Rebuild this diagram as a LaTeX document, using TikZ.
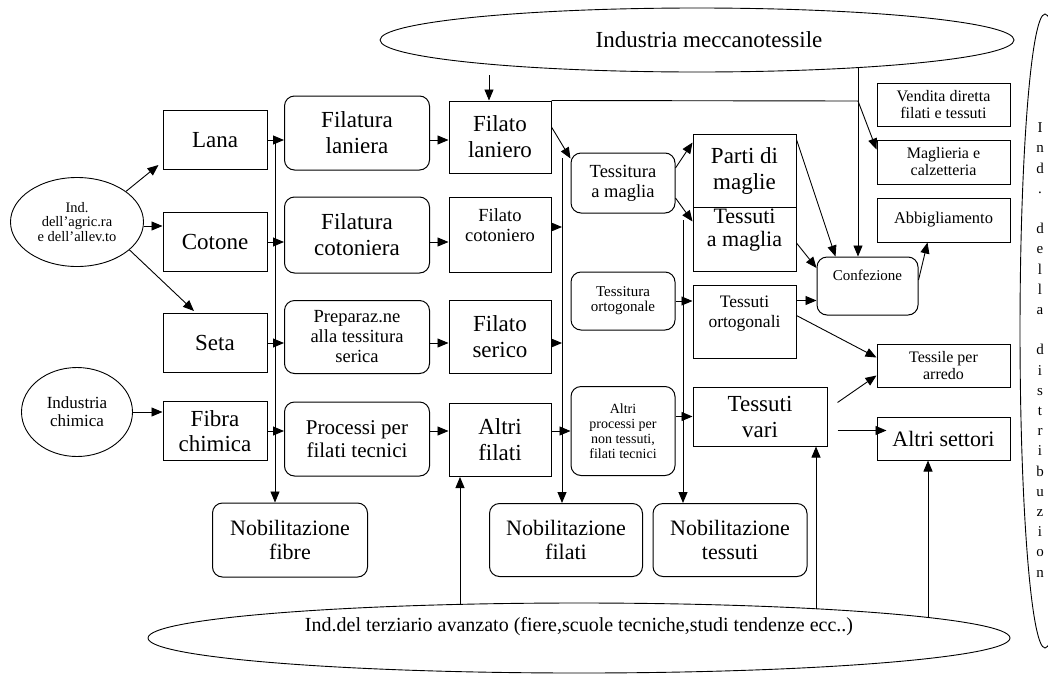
\documentclass[tikz,border=0pt]{standalone}
\usepackage{fontspec}
\setmainfont{Liberation Serif}
\usetikzlibrary{arrows.meta,shapes.geometric}
\newcommand\topbox[4]{\parbox[c][#2][t]{#1}{\centering\vspace*{#3}#4\par}}
\begin{document}
\begin{tikzpicture}[x=1pt,y=-1pt,
  arr/.style={-{Triangle[length=11pt,width=9pt]},line width=0.9pt},
  sq/.style={draw,line width=1pt,inner sep=0pt,align=center},
  rd/.style={sq,rounded corners=10pt},
  el/.style={draw,ellipse,line width=0.9pt,inner sep=0pt,align=center},
  fA/.style={font=\fontsize{23}{26}\selectfont},
  fAii/.style={font=\fontsize{23}{25}\selectfont},
  fB/.style={font=\fontsize{18.5}{20}\selectfont},
  fP/.style={font=\fontsize{21}{23}\selectfont},
  fN/.style={font=\fontsize{22}{24}\selectfont},
  fS/.style={font=\fontsize{15}{15}\selectfont},
  fX/.style={font=\fontsize{14}{15}\selectfont},
  fTm/.style={font=\fontsize{22}{23}\selectfont},
  fO/.style={font=\fontsize{17.5}{20}\selectfont},
  fC/.style={font=\fontsize{15}{17}\selectfont},
  fV/.style={font=\fontsize{16}{17}\selectfont},
  fAb/.style={font=\fontsize{16.5}{18}\selectfont},
  fAS/.style={font=\fontsize{22}{24}\selectfont},
  fE/.style={font=\fontsize{14.5}{14.5}\selectfont},
  fF/.style={font=\fontsize{17}{18}\selectfont},
  fT/.style={font=\fontsize{23}{24}\selectfont},
  fTb/.style={font=\fontsize{20}{22}\selectfont},
  fD/.style={font=\fontsize{15}{20.2}\selectfont}
]
\useasboundingbox (0,0) rectangle (1048,675);

% ellipses
\node[el,fT,minimum width=634pt,minimum height=64pt] (mecc) at (697,40) {\hspace*{24pt}Industria meccanotessile};
\node[el,fTb,minimum width=862pt,minimum height=70pt] (terz) at (579,638) {Ind.del terziario avanzato (fiere,scuole tecniche,studi tendenze ecc..)\\[6pt]};
\node[el,minimum width=50pt,minimum height=634pt] (distrib) at (1045,331) {};
\node[fD,align=center,inner sep=0pt] (distrtxt) at (1040,350) {I\\n\\d\\.\\[20.2pt]d\\e\\l\\l\\a\\[20.2pt]d\\i\\s\\t\\r\\i\\b\\u\\z\\i\\o\\n};
\node[el,fE,minimum width=133pt,minimum height=89pt] (agr) at (77,222) {Ind.\\dell'agric.ra\\e dell'allev.to};
\node[el,fF,minimum width=111pt,minimum height=89pt] (chim) at (77,412) {Industria\\chimica};

% column 1
\node[sq,fA,minimum width=104pt,minimum height=59pt] (lana) at (215,140) {Lana};
\node[sq,fA,minimum width=104pt,minimum height=59pt] (cotone) at (215,242) {Cotone};
\node[sq,fA,minimum width=104pt,minimum height=59pt] (seta) at (215,343) {Seta};
\node[sq,fAii,minimum width=104pt,minimum height=59pt] (fibra) at (215,431) {Fibra\\chimica};

% column 2
\node[rd,fA,minimum width=145pt,minimum height=74pt] (filatlan) at (357,133) {Filatura\\laniera};
\node[rd,fA,minimum width=145pt,minimum height=76pt] (filatcot) at (357,235) {Filatura\\cotoniera};
\node[rd,fB,minimum width=145pt,minimum height=73pt] (prep) at (357,337) {Preparaz.ne\\alla tessitura\\serica};
\node[rd,fP,minimum width=145pt,minimum height=74pt] (proc) at (357,439) {Processi per\\filati tecnici};

% column 3
\node[sq,fA,minimum width=102pt,minimum height=72pt] (filatolan) at (500,137) {Filato\\laniero};
\node[sq,fB] (filatocot) at (500,234.5) {\topbox{102pt}{75pt}{12pt}{Filato\\cotoniero}};
\node[sq,fA,minimum width=102pt,minimum height=73pt] (serico) at (500,337) {Filato\\serico};
\node[sq,fA,minimum width=102pt,minimum height=73pt] (altrifil) at (500,440) {Altri\\filati};

% nobilitazione
\node[rd,fN,minimum width=155pt,minimum height=74pt] (nobfib) at (290,540) {Nobilitazione\\fibre};
\node[rd,fN,minimum width=153pt,minimum height=73pt] (nobfil) at (566,540) {Nobilitazione\\filati};
\node[rd,fN,minimum width=154pt,minimum height=73pt] (nobtes) at (730,540) {Nobilitazione\\tessuti};

% column 4
\node[rd,fB,minimum width=104pt,minimum height=60pt] (tessmag) at (623,183) {Tessitura\\a maglia};
\node[rd,fS,minimum width=104pt,minimum height=58pt] (tessort) at (623,301) {Tessitura\\ortogonale};
\node[rd,fX,minimum width=104pt,minimum height=89pt] (altriproc) at (623,431) {Altri\\processi per\\non tessuti,\\filati tecnici};

% column 5
\node[sq,fA,minimum width=103pt,minimum height=73pt] (partimag) at (744.5,170.5) {Parti di\\maglie};
\node[sq,fTm] (tessutimag) at (744.5,239) {\topbox{103pt}{64pt}{2pt}{Tessuti\\a maglia}};
\node[sq,fO] (tessorto) at (744.5,321.5) {\topbox{103pt}{73pt}{11pt}{Tessuti\\ortogonali}};
\node[sq,fA,minimum width=134pt,minimum height=59pt] (tessvari) at (760,416.5) {Tessuti\\vari};

\node[rd,fC] (confez) at (867.5,286) {\topbox{101pt}{58pt}{12.8pt}{Confezione}};

% right column
\node[sq,fV,minimum width=133pt,minimum height=43pt] (vend) at (943.5,104.5) {Vendita diretta\\filati e tessuti};
\node[sq,fV,minimum width=133pt,minimum height=44pt] (magl) at (943.5,162) {Maglieria e\\calzetteria};
\node[sq,fAb,minimum width=133pt,minimum height=44pt] (abbig) at (943.5,220) {Abbigliamento};
\node[sq,fV,minimum width=133pt,minimum height=43pt] (tessile) at (943.5,365.5) {Tessile per\\arredo};
\node[sq,fAS,minimum width=133pt,minimum height=43pt] (altrisett) at (943.5,438.5) {Altri settori};

% left arrows
\draw[arr] (agr.32) -- ([xshift=-4pt,yshift=5pt]lana.south west);
\draw[arr] ([yshift=-4pt]agr.east) -- ([yshift=-4pt]agr.east -| cotone.west);
\draw[arr] (agr.-28) -- ([xshift=-21pt,yshift=2pt]seta.north);
\draw[arr] (chim.east) -- (chim.east -| fibra.west);

% bus 1
\coordinate (b1) at (275,140);
\draw[arr] (b1) -- (b1 |- nobfib.north);
\draw[arr] (lana.east) -- (lana.east -| filatlan.west);
\draw[arr] (cotone.east) -- (cotone.east -| filatcot.west);
\draw[arr] (seta.east) -- (seta.east -| prep.west);
\draw[arr] (fibra.east) -- (fibra.east -| proc.west);
\draw[arr] (lana.east -| filatlan.east) -- (lana.east -| filatolan.west);
\draw[arr] (cotone.east -| filatcot.east) -- (cotone.east -| filatocot.west);
\draw[arr] (seta.east -| prep.east) -- (seta.east -| serico.west);
\draw[arr] (fibra.east -| proc.east) -- (fibra.east -| altrifil.west);

% bus 2
\coordinate (b2) at (562,158);
\draw[arr] (b2) -- (b2 |- nobfil.north);
\draw[arr] ([yshift=10pt]filatolan.east) -- ([yshift=-6pt]tessmag.north west);
\draw[arr] ([yshift=7.5pt]filatocot.east) -- ([yshift=7.5pt]filatocot.east -| b2);
\draw[arr] (seta.east -| serico.east) -- (seta.east -| b2);
\draw[arr] (fibra.east -| altrifil.east) -- (fibra.east -| altriproc.west);

% bus 3
\coordinate (b3) at (683,220);
\draw[arr] (b3) -- (b3 |- nobtes.north);
\draw[arr] ([yshift=15pt]tessmag.east) -- ([yshift=-9pt]partimag.north west);
\draw[arr] ([yshift=-15pt]tessmag.east) -- ([yshift=-15pt]tessutimag.north west);
\draw[arr] (tessort.east) -- (tessort.east -| tessorto.west);
\draw[arr] (tessvari.west -| altriproc.east) -- (tessvari.west);

% top ellipse
\coordinate (m1) at (489,75);
\coordinate (m2) at (858,68);
\coordinate (m3) at (858,101);
\draw[arr] (m1) -- (m1 |- filatolan.north);
\draw[arr] (m2) -- (m2 |- confez.north);
\draw[arr] (filatolan.north east) -- (m3) -- ([yshift=-10pt]magl.north west);

% confezione
\draw[arr] ([yshift=-6pt]partimag.north east) -- ([xshift=-32pt]confez.north);
\draw[arr] ([yshift=-4pt]tessutimag.east) -- ([yshift=18pt]confez.west);
\draw[arr] ([yshift=21pt]tessorto.east) -- ([yshift=21pt]tessorto.east -| confez.west);
\draw[arr] ([yshift=6pt]confez.east) -- ([xshift=-16pt]abbig.south);
\draw[arr] ([yshift=6pt]tessorto.east) -- ([yshift=8pt]tessile.west);
\draw[arr] ([xshift=10pt,yshift=14pt]tessvari.east) -- ([yshift=-10pt]tessile.west);
\draw[arr] ([xshift=10pt,yshift=-14pt]tessvari.east) -- ([xshift=10pt,yshift=-14pt]tessvari.east -| altrisett.west);

% bottom ellipse
\coordinate (t1) at (460,605);
\coordinate (t2) at (816,609);
\coordinate (t3) at (928,618);
\draw[arr] (t1) -- (t1 |- altrifil.south);
\draw[arr] (t2) -- (t2 |- tessvari.south);
\draw[arr] (t3) -- (t3 |- altrisett.south);
\end{tikzpicture}
\end{document}
